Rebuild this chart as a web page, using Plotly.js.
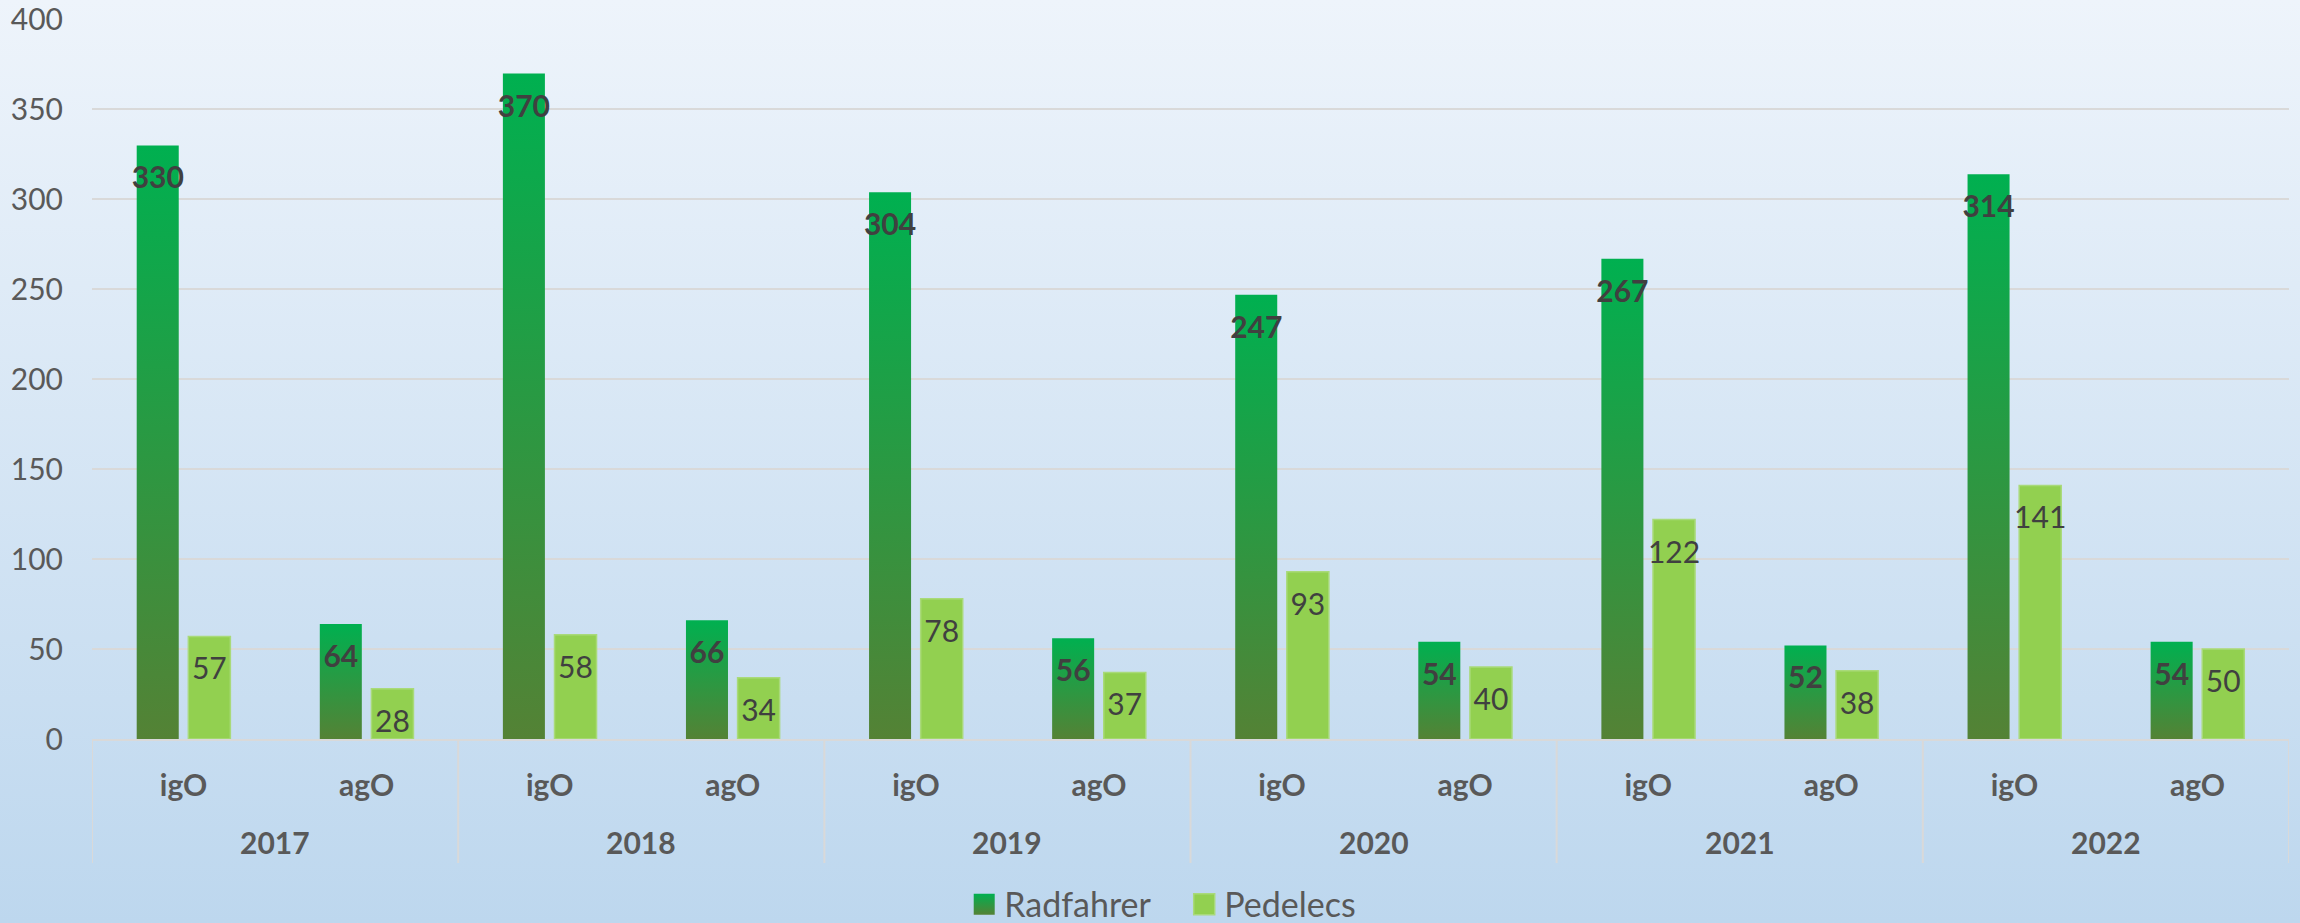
<!DOCTYPE html>
<html><head><meta charset="utf-8">
<script src="https://cdn.plot.ly/plotly-3.0.1.min.js"></script>
<style>
html,body{margin:0;padding:0;}
body{width:2300px;height:923px;background:linear-gradient(to bottom,#EEF4FB 0%,#BDD7EE 100%);overflow:hidden;}
#chart{width:2300px;height:923px;}
</style></head><body><div id="chart"></div>
<script>
const years = ['2017','2017','2018','2018','2019','2019','2020','2020','2021','2021','2022','2022'];
const areas = ['igO','agO','igO','agO','igO','agO','igO','agO','igO','agO','igO','agO'];
const radfahrer = [330,64,370,66,304,56,247,54,267,52,314,54];
const pedelecs = [57,28,58,34,78,37,93,40,122,38,141,50];
const yTicks = [0,50,100,150,200,250,300,350,400];

const FONT = 'Lato, "Open Sans", sans-serif';
// invisible spacer that makes the value labels sit a little lower, as in the original
const SP = "<span style='font-size:41px'> </span>";

// one unique category per bar slot; tick text shows the area, the year row is added below
const xKeys = years.map((y, i) => y + ' ' + areas[i]);
const yearList = years.filter((y, i) => years.indexOf(y) === i);
const yearCenters = yearList.map(yr => {
  const idx = years.map((y, i) => y === yr ? i : -1).filter(i => i >= 0);
  return idx.reduce((a, b) => a + b, 0) / idx.length;
});
const boundaries = [];
years.forEach((y, i) => { if(i === 0 || y !== years[i - 1]) boundaries.push(i - 0.5); });
boundaries.push(years.length - 0.5);

const DIVIDER_BOTTOM = -0.1722; // paper units below the axis line
const YEAR_ROW = -0.143;

const data = [
  {
    type:'bar', name:'Radfahrer', x:xKeys, y:radfahrer,
    marker:{color:'#2A9942'},
    texttemplate: SP + '%{y}' + SP, textposition:'inside', insidetextanchor:'end',
    constraintext:'none', textangle:0,
    textfont:{family:FONT, size:30, weight:'bold', color:'#404040'},
    hoverinfo:'skip'
  },
  {
    type:'bar', name:'Pedelecs', x:xKeys, y:pedelecs,
    marker:{color:'#92D050', line:{color:'#A9DA7A', width:1.5}},
    texttemplate: SP + '%{y}' + SP, textposition:'inside', insidetextanchor:'end',
    constraintext:'none', textangle:0,
    textfont:{family:FONT, size:30, weight:'normal', color:'#404040'},
    hoverinfo:'skip'
  }
];

const layout = {
  width:2300, height:923,
  margin:{l:92, r:11, t:19, b:184},
  paper_bgcolor:'rgba(0,0,0,0)', plot_bgcolor:'rgba(0,0,0,0)',
  barmode:'group', bargap:0.436, bargroupgap:0.186,
  font:{family:FONT, color:'#595959'},
  xaxis:{
    type:'category', range:[-0.5, xKeys.length - 0.5],
    tickvals:xKeys, ticktext:areas,
    showline:true, linecolor:'#D9D9D9', linewidth:2,
    ticks:'', showgrid:false, ticklabelstandoff:19,
    tickfont:{family:FONT, size:30, weight:'bold', color:'#595959'}
  },
  yaxis:{
    range:[0,400.3], tickvals:yTicks, ticktext:yTicks.map(String),
    showgrid:true, gridcolor:'#D9D9D9', gridwidth:2, zeroline:false, showline:false,
    ticks:'', ticklabelstandoff:28,
    tickfont:{family:FONT, size:30, color:'#595959'}
  },
  shapes: boundaries.map(b => ({
    type:'line', xref:'x', yref:'paper', x0:b, x1:b, y0:0, y1:DIVIDER_BOTTOM,
    line:{color:'#D9D9D9', width:2}, layer:'below'
  })),
  annotations: yearList.map((yr, k) => ({
    text: yr, xref:'x', yref:'paper', x: yearCenters[k], y: YEAR_ROW,
    xanchor:'center', yanchor:'middle', showarrow:false,
    font:{family:FONT, size:30, weight:'bold', color:'#595959'}
  })),
  showlegend:true,
  legend:{
    orientation:'h', x:0.397, xanchor:'left', yref:'container', y:0.02, yanchor:'middle',
    entrywidth:175,
    font:{family:FONT, size:34, color:'#595959'}, bgcolor:'rgba(0,0,0,0)'
  }
};

function ensureGradient(gd){
  const ns = 'http://www.w3.org/2000/svg';
  if(gd.querySelector('#radGrad')) return;
  const svg = gd.querySelector('svg.main-svg');
  let defs = svg.querySelector('defs');
  if(!defs){ defs = document.createElementNS(ns,'defs'); svg.insertBefore(defs, svg.firstChild); }
  const lg = document.createElementNS(ns,'linearGradient');
  lg.setAttribute('id','radGrad');
  lg.setAttribute('x1','0'); lg.setAttribute('y1','0'); lg.setAttribute('x2','0'); lg.setAttribute('y2','1');
  [['0','#00B050'],['1','#548235']].forEach(([o,c])=>{
    const s = document.createElementNS(ns,'stop');
    s.setAttribute('offset',o); s.setAttribute('stop-color',c);
    lg.appendChild(s);
  });
  defs.appendChild(lg);
}

function tweak(gd){
  ensureGradient(gd);
  const traces = gd.querySelectorAll('.barlayer .trace');
  if(traces[0]) traces[0].querySelectorAll('.point path').forEach(p=>{ p.style.fill='url(#radGrad)'; });
  gd.querySelectorAll('.legend .traces').forEach((t,i)=>{
    t.querySelectorAll('.legendpoints path').forEach(p=>{
      p.setAttribute('d','M10.5,10.5H-10.5V-10.5H10.5Z');
      if(i===0) p.style.fill='url(#radGrad)';
    });
  });
}

Plotly.newPlot('chart', data, layout, {staticPlot:true, displayModeBar:false}).then(gd => {
  tweak(gd);
  if(gd.on) gd.on('plotly_afterplot', () => tweak(gd));
  [0, 50, 200, 600].forEach(ms => setTimeout(() => tweak(gd), ms));
});
</script>
</body></html>
